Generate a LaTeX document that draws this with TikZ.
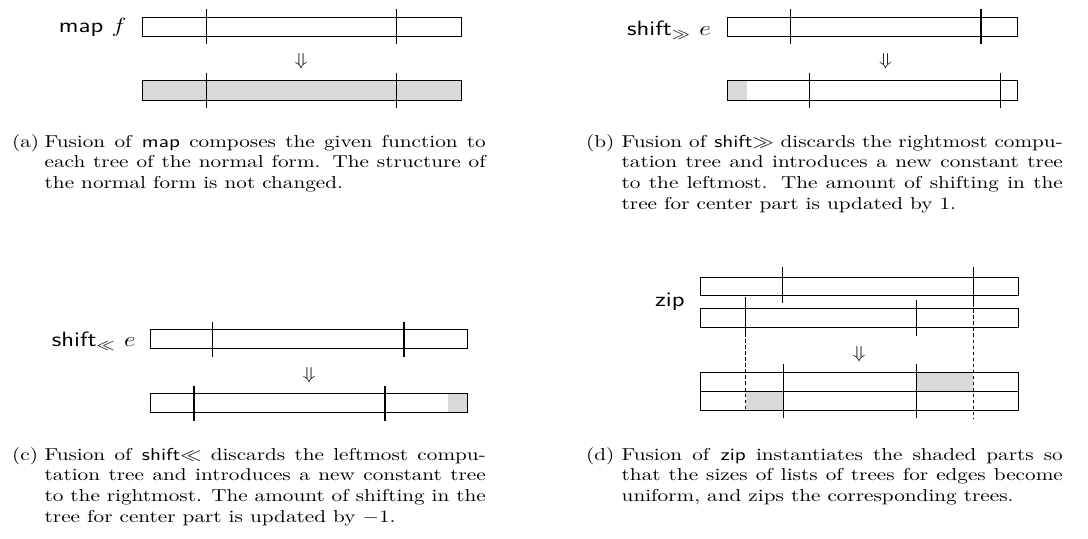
\documentclass[tikz,border=0pt]{standalone}

\begin{document}
\begin{tikzpicture}[
    x = .58pt, y = -.58pt,
    every node/.style = {xscale = 1.23},
    bar/.style = {draw, line width = .5pt},
    pad/.style = {fill = gray!30},
    cut/.style = {line width = .9pt},
    gap/.style = {line width = .5pt, dash pattern = on 2pt off 1.5pt},
    op/.style = {font = \large\sffamily, inner sep = 0pt, anchor = base east},
    tag/.style = {inner sep = 0pt, anchor = base west},
    note/.style = {tag, text width = 208pt, align = justify},
  ]
  \useasboundingbox (0,0) rectangle (1088,538);

  % (a) map
  \node[op] (mapop) at (127,32.5) {map $f$};
  \draw[bar] (142.7,17.3) rectangle (461,36);
  \draw[cut] (206.7,9.3) -- (206.7,44.3) (396.7,9.3) -- (396.7,44.3);
  \node (mapto) at (301,61.5) {$\Downarrow$};
  \fill[pad] (142.7,80.7) rectangle (461,100);
  \draw[bar] (142.7,80.7) rectangle (461,100);
  \draw[cut] (206.7,72.7) -- (206.7,108) (396.7,72.7) -- (396.7,108);
  \node[tag] (maptag) at (11.7,147) {(a)};
  \node[note] (mapnote) at (44.3,147) {Fusion of \textsf{map} composes the given function to\linebreak
    each tree of the normal form. The structure of\linebreak
    the normal form is not changed.};

  % (b) shift right
  \node[op] (shrop) at (711.3,35) {shift$_{\gg}$ $e$};
  \draw[bar] (727.3,17.3) rectangle (1017,36);
  \draw[cut] (790.7,9.3) -- (790.7,44.3) (981,9.3) -- (981,44.3);
  \node (shrto) at (885.7,61.5) {$\Downarrow$};
  \fill[pad] (727.3,80.7) rectangle (747,100);
  \draw[bar] (727.3,80.7) rectangle (1017,100);
  \draw[cut] (809.3,72.7) -- (809.3,108) (1000.7,72.7) -- (1000.7,108);
  \node[tag] (shrtag) at (585.7,147) {(b)};
  \node[note] (shrnote) at (621.3,147) {Fusion of \textsf{shift}$\gg$ discards the rightmost compu-\linebreak
    tation tree and introduces a new constant tree\linebreak
    to the leftmost. The amount of shifting in the\linebreak
    tree for center part is updated by 1.};

  % (c) shift left
  \node[op] (shlop) at (136,346.5) {shift$_{\ll}$ $e$};
  \draw[bar] (150,329.3) rectangle (467.3,348.3);
  \draw[cut] (212.7,321.7) -- (212.7,356.7) (404,321.7) -- (404,356.7);
  \node (shlto) at (309,375) {$\Downarrow$};
  \fill[pad] (448.3,393.3) rectangle (467.3,412.3);
  \draw[bar] (150,393.3) rectangle (467.3,412.3);
  \draw[cut] (194,385.7) -- (194,420.7) (385,385.7) -- (385,420.7);
  \node[tag] (shltag) at (11.7,460) {(c)};
  \node[note] (shlnote) at (44.3,460) {Fusion of \textsf{shift}$\ll$ discards the leftmost compu-\linebreak
    tation tree and introduces a new constant tree\linebreak
    to the rightmost. The amount of shifting in the\linebreak
    tree for center part is updated by $-1$.};

  % (d) zip
  \node[op] (zipop) at (685,306.5) {zip};
  \draw[bar] (700.7,277.3) rectangle (1018.3,295.7);
  \draw[cut] (782.7,267.3) -- (782.7,303.3) (973.3,267.3) -- (973.3,303.3);
  \draw[bar] (700.7,308.7) rectangle (1018.3,327.3);
  \draw[cut] (745.7,300) -- (745.7,336) (916.7,300) -- (916.7,336);
  \node (zipto) at (859,354.3) {$\Downarrow$};
  \fill[pad] (916.7,372.3) rectangle (973.3,391);
  \fill[pad] (745.7,391) rectangle (783.3,410);
  \draw[bar] (700.7,372.3) rectangle (1018.3,410);
  \draw[bar] (700.7,391) -- (1018.3,391);
  \draw[cut] (783.3,364) -- (783.3,418.3) (916.7,364) -- (916.7,418.3);
  \draw[gap] (745.7,297) -- (745.7,410) (973.3,303.3) -- (973.3,419);
  \node[tag] (ziptag) at (585.7,460) {(d)};
  \node[note] (zipnote) at (621.3,460) {Fusion of \textsf{zip} instantiates the shaded parts so\linebreak
    that the sizes of lists of trees for edges become\linebreak
    uniform, and zips the corresponding trees.};
\end{tikzpicture}
\end{document}
